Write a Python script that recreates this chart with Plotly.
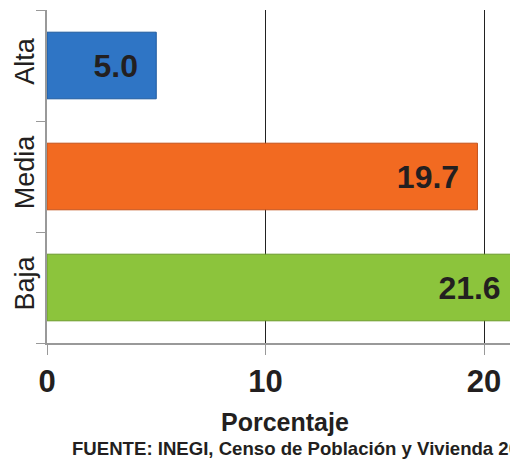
import plotly.graph_objects as go

categories = ["Baja", "Media", "Alta"]
values = [21.6, 19.7, 5.0]
colors = ["#8cc43c", "#f26a21", "#2f75c5"]
edge_colors = ["#6b9a2a", "#c4511a", "#1f5a9e"]
x_ticks = [0, 10, 20]

fig = go.Figure()
fig.add_trace(go.Bar(
    y=categories, x=values, orientation="h",
    marker=dict(color=colors, line=dict(color=edge_colors, width=1)),
    width=0.6,
    text=[f"{v:.1f}\u00a0\u2009" for v in values],
    textposition="inside", insidetextanchor="end",
    textfont=dict(family="Liberation Sans, Arial", size=32, color="#231f20", weight="bold"),
    cliponaxis=True,
))

fig.update_layout(
    width=510, height=460,
    margin=dict(l=47, r=0, t=10, b=117),
    plot_bgcolor="white", paper_bgcolor="white",
    showlegend=False,
    font=dict(family="Liberation Sans, Arial", color="#231f20"),
    xaxis=dict(
        range=[0, 21.19], tickvals=x_ticks, ticktext=[str(t) for t in x_ticks],
        showgrid=True, gridcolor="#222222", gridwidth=1,
        zeroline=False,
        showline=True, linecolor="#999999", linewidth=1.5,
        ticks="outside", ticklen=10, tickcolor="#999999",
        tickfont=dict(size=31, weight="bold", color="#231f20"),
    ),
    yaxis=dict(
        range=[-0.5, 2.5], tickson="boundaries",
        showline=True, linecolor="#999999", linewidth=1.5,
        ticks="outside", ticklen=9, tickcolor="#999999",
        tickangle=-90, showgrid=False,
        tickfont=dict(size=27, color="#231f20"),
    ),
    annotations=[
        dict(text="<b>Porcentaje</b>", xref="paper", yref="paper", x=0.515, y=-0.237,
             xanchor="center", yanchor="middle", showarrow=False,
             font=dict(size=25, color="#231f20")),
        dict(text="<b>FUENTE: INEGI, Censo de Población y Vivienda 2010</b>",
             xref="paper", yref="paper", x=0.049, y=-0.318,
             xanchor="left", yanchor="middle", showarrow=False,
             font=dict(size=18.6, color="#231f20")),
    ],
)

fig.write_html("out.html")
